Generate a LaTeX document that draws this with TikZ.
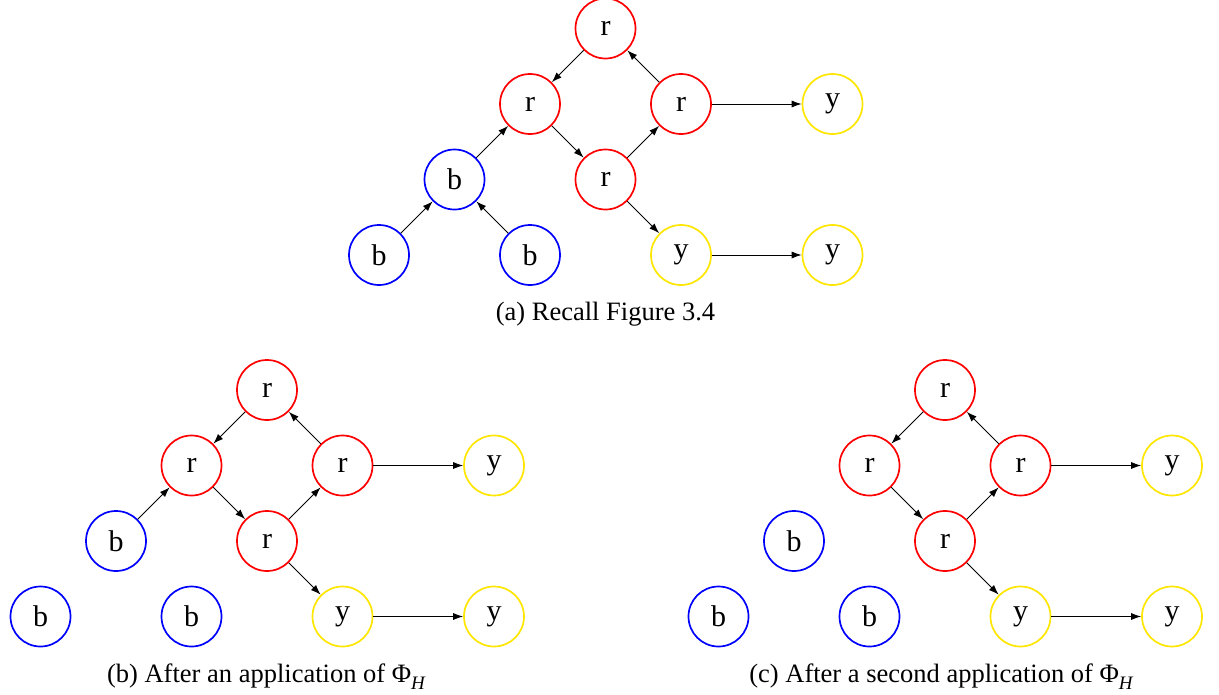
\documentclass[tikz,border=0pt]{standalone}
\usepackage{fontspec}
\setmainfont{Liberation Serif}
\usetikzlibrary{arrows.meta}
\definecolor{rnode}{RGB}{255,0,0}
\definecolor{bnode}{RGB}{0,0,255}
\definecolor{ynode}{RGB}{255,230,0}
\tikzset{
  vtx/.style={circle, draw, line width=1.7pt, minimum size=60pt, inner sep=0pt,
    font=\fontsize{30}{34}\selectfont},
  rv/.style={vtx, draw=rnode},
  bv/.style={vtx, draw=bnode},
  yv/.style={vtx, draw=ynode},
  edge/.style={line width=0.9pt, -{Latex[length=10pt,width=7pt]}},
  captext/.style={font=\fontsize{26.5}{30}\selectfont, anchor=base, inner sep=0pt}
}
\newcommand{\PhiH}{Φ\raisebox{-0.28em}{\fontsize{19}{20}\selectfont\itshape H}}
\begin{document}
\begin{tikzpicture}[x=1pt, y=-1pt]
\useasboundingbox (0,0) rectangle (1219,694);

% (a) the original graph
\begin{scope}[shift={(605.5,28.5)}]
  \node[rv] (a1) at (0,0) {r};
  \node[rv] (a2) at (-75.5,75.5) {r};
  \node[rv] (a3) at (75.5,75.5) {r};
  \node[yv] (a4) at (227,75.5) {y};
  \node[bv] (a5) at (-151,151) {b};
  \node[rv] (a6) at (0,151) {r};
  \node[bv] (a7) at (-226.5,226.5) {b};
  \node[bv] (a8) at (-75.5,226.5) {b};
  \node[yv] (a9) at (75.5,226.5) {y};
  \node[yv] (a10) at (227,226.5) {y};
  \draw[edge] (a1) -- (a2);
  \draw[edge] (a3) -- (a1);
  \draw[edge] (a2) -- (a6);
  \draw[edge] (a6) -- (a3);
  \draw[edge] (a3) -- (a4);
  \draw[edge] (a5) -- (a2);
  \draw[edge] (a7) -- (a5);
  \draw[edge] (a8) -- (a5);
  \draw[edge] (a6) -- (a9);
  \draw[edge] (a9) -- (a10);
  \node[captext] (capa) at (0,291.5) {(a) Recall Figure 3.4};
\end{scope}

% (b) one application
\begin{scope}[shift={(267,390)}]
  \node[rv] (b1) at (0,0) {r};
  \node[rv] (b2) at (-75.5,75.5) {r};
  \node[rv] (b3) at (75.5,75.5) {r};
  \node[yv] (b4) at (227,75.5) {y};
  \node[bv] (b5) at (-151,151) {b};
  \node[rv] (b6) at (0,151) {r};
  \node[bv] (b7) at (-226.5,226.5) {b};
  \node[bv] (b8) at (-75.5,226.5) {b};
  \node[yv] (b9) at (75.5,226.5) {y};
  \node[yv] (b10) at (227,226.5) {y};
  \draw[edge] (b1) -- (b2);
  \draw[edge] (b3) -- (b1);
  \draw[edge] (b2) -- (b6);
  \draw[edge] (b6) -- (b3);
  \draw[edge] (b3) -- (b4);
  \draw[edge] (b5) -- (b2);
  \draw[edge] (b6) -- (b9);
  \draw[edge] (b9) -- (b10);
  \node[captext] (capb) at (-1,292) {(b) After an application of \PhiH};
\end{scope}

% (c) a second application
\begin{scope}[shift={(945,390)}]
  \node[rv] (c1) at (0,0) {r};
  \node[rv] (c2) at (-75.5,75.5) {r};
  \node[rv] (c3) at (75.5,75.5) {r};
  \node[yv] (c4) at (227,75.5) {y};
  \node[bv] (c5) at (-151,151) {b};
  \node[rv] (c6) at (0,151) {r};
  \node[bv] (c7) at (-226.5,226.5) {b};
  \node[bv] (c8) at (-75.5,226.5) {b};
  \node[yv] (c9) at (75.5,226.5) {y};
  \node[yv] (c10) at (227,226.5) {y};
  \draw[edge] (c1) -- (c2);
  \draw[edge] (c3) -- (c1);
  \draw[edge] (c2) -- (c6);
  \draw[edge] (c6) -- (c3);
  \draw[edge] (c3) -- (c4);
  \draw[edge] (c6) -- (c9);
  \draw[edge] (c9) -- (c10);
  \node[captext] (capc) at (-4,292) {(c) After a second application of \PhiH};
\end{scope}
\end{tikzpicture}
\end{document}
